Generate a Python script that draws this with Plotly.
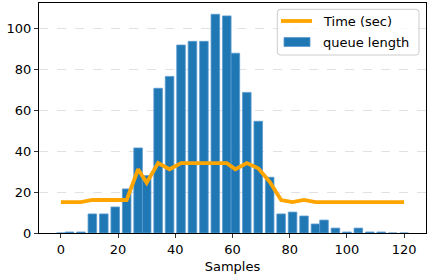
import plotly.graph_objects as go

samples = [0, 3, 7, 11, 15, 19, 23, 27, 30, 34, 38, 42, 46, 50, 54, 58,
           61, 65, 69, 73, 77, 81, 85, 89, 92, 96, 100, 104, 108, 112, 116, 120]
queue_length = [0, 0.5, 0.5, 9.3, 9.3, 12.7, 21.5, 41.5, 28, 70.6, 76.4, 91.7,
                93.5, 93.5, 106.7, 105.9, 87.7, 68.6, 54.5, 27.2, 9.3, 10.2, 8.3,
                4.4, 6.3, 2.4, 0.5, 2.4, 0.5, 0.5, 0, 0]
time_sec = [15.1, 15.1, 15.1, 16.1, 16.1, 16.1, 16.1, 31.1, 24.5, 34.1, 31.1,
            34.1, 34.1, 34.1, 34.1, 34.1, 31.1, 34.1, 31.6, 25.0, 16.1, 15.1,
            16.1, 15.1, 15.1, 15.1, 15.1, 15.1, 15.1, 15.1, 15.1, 15.1]
x_ticks = [0, 20, 40, 60, 80, 100, 120]
y_ticks = [0, 20, 40, 60, 80, 100]

BLUE = "#1f77b4"
ORANGE = "#ffa500"
FONT = "DejaVu Sans"

W, H = 428, 279
L, R, T, B = 39, 426, 3, 233


def px(x):
    return (x - L) / (R - L)


def py(y):
    return (B - y) / (B - T)


fig = go.Figure()
fig.add_trace(go.Bar(
    x=samples, y=queue_length, width=3,
    marker=dict(color=BLUE, line=dict(color="#5a9bcf", width=0.8)),
    name="queue length", showlegend=False, hoverinfo="skip",
))
fig.add_trace(go.Scatter(
    x=samples, y=time_sec, mode="lines",
    line=dict(color=ORANGE, width=3.8),
    name="Time (sec)", showlegend=False, hoverinfo="skip",
))

# custom legend (matplotlib-style)
x0, x1, y0, y1 = 277.3, 419, 9.3, 55
r = 3
path = (f"M {px(x0 + r)} {py(y0)} L {px(x1 - r)} {py(y0)} "
        f"Q {px(x1)} {py(y0)} {px(x1)} {py(y0 + r)} "
        f"L {px(x1)} {py(y1 - r)} Q {px(x1)} {py(y1)} {px(x1 - r)} {py(y1)} "
        f"L {px(x0 + r)} {py(y1)} Q {px(x0)} {py(y1)} {px(x0)} {py(y1 - r)} "
        f"L {px(x0)} {py(y0 + r)} Q {px(x0)} {py(y0)} {px(x0 + r)} {py(y0)} Z")
shapes = [
    dict(type="path", path=path, xref="paper", yref="paper",
         fillcolor="rgba(255,255,255,0.8)", line=dict(color="#cccccc", width=1),
         layer="above"),
    dict(type="line", xref="paper", yref="paper",
         x0=px(281), x1=px(312), y0=py(21), y1=py(21),
         line=dict(color=ORANGE, width=3.8), layer="above"),
    dict(type="rect", xref="paper", yref="paper",
         x0=px(284), x1=px(310), y0=py(37.5), y1=py(46.5),
         fillcolor=BLUE, line=dict(color="#5a9bcf", width=0.8), layer="above"),
]
annotations = [
    dict(text="Time (sec)", xref="paper", yref="paper", x=px(321), y=py(21),
         xanchor="left", yanchor="middle", showarrow=False,
         font=dict(family=FONT, size=13, color="black")),
    dict(text="queue length", xref="paper", yref="paper", x=px(321), y=py(42),
         xanchor="left", yanchor="middle", showarrow=False,
         font=dict(family=FONT, size=13, color="black")),
]

fig.update_layout(
    width=W, height=H,
    margin=dict(l=L, r=W - R, t=T, b=H - B, autoexpand=False),
    plot_bgcolor="white", paper_bgcolor="white",
    font=dict(family=FONT, size=13, color="black"),
    shapes=shapes, annotations=annotations,
    bargap=0, hovermode=False,
)
fig.update_xaxes(
    range=[-7.65, 127.65], tickvals=x_ticks, ticks="outside", ticklen=4,
    tickwidth=0.8, tickcolor="black", showline=True, mirror=True,
    linecolor="black", linewidth=1, showgrid=False, zeroline=False,
    automargin=False,
    title=dict(text="Samples", standoff=6, font=dict(size=13)),
)
fig.update_yaxes(
    range=[0, 112.2], tickvals=y_ticks, ticks="outside", ticklen=4,
    tickwidth=0.8, tickcolor="black", showline=True, mirror=True,
    linecolor="black", linewidth=1, showgrid=True, gridcolor="#d9d9d9",
    griddash="dash", gridwidth=0.8, zeroline=False, automargin=False,
)

fig.write_html(
    "out.html",
    config={"displayModeBar": False, "staticPlot": True},
    post_script="document.body.style.margin='0';document.body.style.overflow='hidden';",
)
